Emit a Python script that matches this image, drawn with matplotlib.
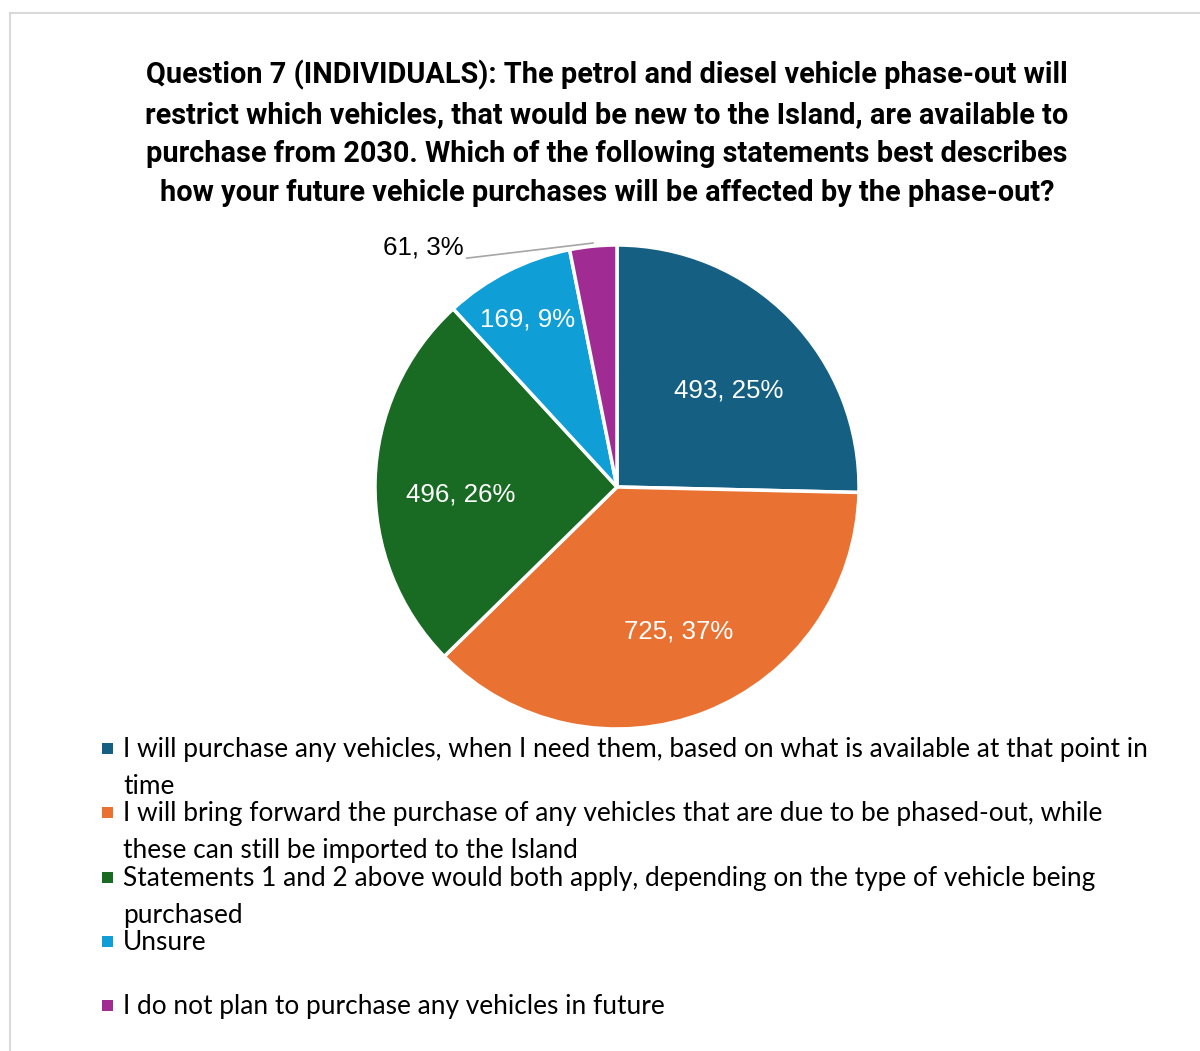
import matplotlib
matplotlib.use("Agg")
import numpy as np
import matplotlib.pyplot as plt
from matplotlib.patches import Rectangle

# Respostas (contagens) por opção
categorias = [
    "I will purchase any vehicles, when I need them, based on what is available at that point in\ntime",
    "I will bring forward the purchase of any vehicles that are due to be phased-out, while\nthese can still be imported to the Island",
    "Statements 1 and 2 above would both apply, depending on the type of vehicle being\npurchased",
    "Unsure",
    "I do not plan to purchase any vehicles in future",
]
respostas = [493, 725, 496, 169, 61]
cores = ["#156082", "#E97132", "#196B24", "#0F9ED5", "#A02B93"]

titulo = ("Question 7 (INDIVIDUALS): The petrol and diesel vehicle phase-out will\n"
          "restrict which vehicles, that would be new to the Island, are available to\n"
          "purchase from 2030. Which of the following statements best describes\n"
          "how your future vehicle purchases will be affected by the phase-out?")

W, H = 1200, 1051
fig = plt.figure(figsize=(W / 100, H / 100), dpi=100)

# moldura cinza clara
fig.patches.append(Rectangle((10 / W, -0.1), 1.2, 1 - 13 / H + 0.1, transform=fig.transFigure,
                             fill=False, edgecolor="#D9D9D9", linewidth=1.5))

fig.text(607 / W, 1 - 60 / H, titulo, ha="center", va="top", fontsize=20.8,
         fontweight="bold", family="Roboto", linespacing=1.5, color="#000000")

# eixo do gráfico de pizza
cx, cy, r = 617, 487, 242
ax = fig.add_axes([(cx - r) / W, 1 - (cy + r) / H, 2 * r / W, 2 * r / H])
wedges, _ = ax.pie(respostas, colors=cores, startangle=90, counterclock=False,
                   wedgeprops=dict(edgecolor="white", linewidth=2.5))
ax.set_xlim(-1, 1)
ax.set_ylim(-1, 1)
ax.set_aspect("equal")
ax.axis("off")

total = sum(respostas)
# distância (fração do raio) e ajuste de ângulo dos rótulos internos
dist = [0.612, 0.651, 0.646, 0.782]
desvio = [-3.5, 1.6, 4.4, 1.1]
for i, w in enumerate(wedges):
    pct = round(100 * respostas[i] / total)
    txt = f"{respostas[i]}, {pct}%"
    meio = (w.theta1 + w.theta2) / 2
    if i < 4:
        ang = np.deg2rad(meio + desvio[i])
        ax.text(dist[i] * np.cos(ang), dist[i] * np.sin(ang), txt, ha="center", va="center",
                color="white", fontsize=18.6, family="Liberation Sans")
    else:
        ang = np.deg2rad(meio)
        ax.annotate(txt, xy=(np.cos(ang), 1.013 * np.sin(ang)),
                    xytext=(-0.8, 0.99), ha="center", va="center", fontsize=18.6,
                    family="Liberation Sans", color="black", annotation_clip=False,
                    arrowprops=dict(arrowstyle="-", color="#A6A6A6", lw=1.2,
                                    shrinkA=0, shrinkB=0, relpos=(1.03, 0.05)))

# legenda manual, um item por faixa de altura fixa
y0 = 737
passo = 64.3
for i, cat in enumerate(categorias):
    y = y0 + i * passo
    fig.patches.append(Rectangle((102 / W, 1 - (y + 17) / H), 11 / W, 11 / H,
                                 transform=fig.transFigure, facecolor=cores[i], edgecolor="none"))
    fig.text(123 / W, 1 - y / H, cat, ha="left", va="top", fontsize=18.9, family="Lato",
             linespacing=1.6, color="black")

fig.savefig("out.png", dpi=100)
